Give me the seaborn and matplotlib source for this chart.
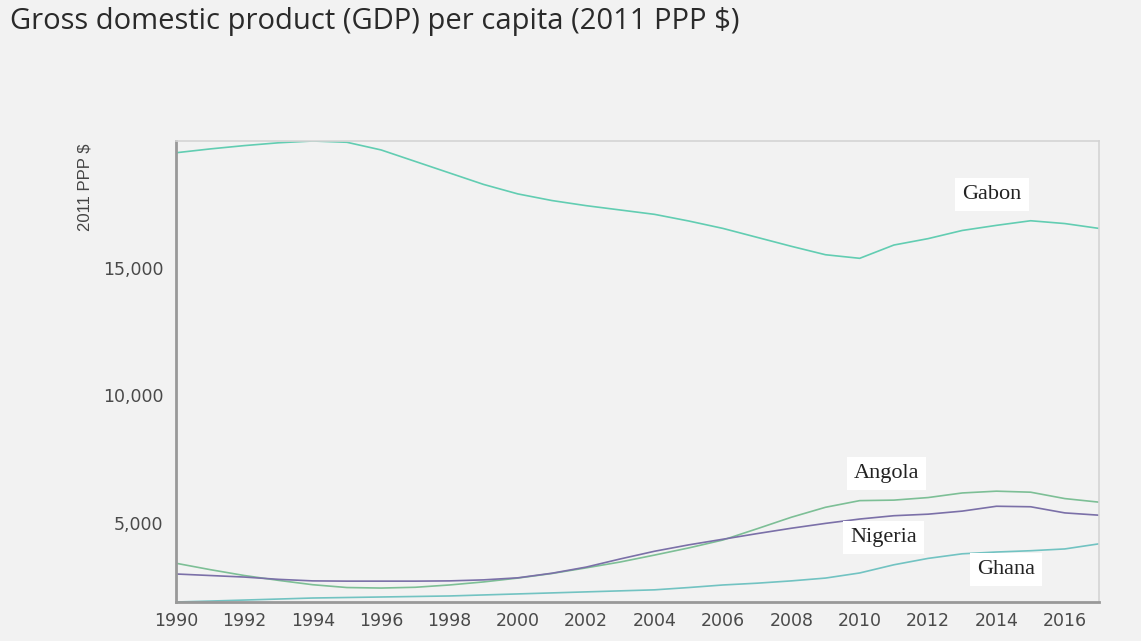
import numpy as np
import pandas as pd
import matplotlib
matplotlib.use("Agg")
import matplotlib.pyplot as plt
import seaborn as sns
from matplotlib.ticker import FuncFormatter, FixedLocator

years = list(range(1990, 2018))
gabon = [19490, 19640, 19770, 19880, 19950, 19900, 19600, 19150, 18700, 18250,
         17880, 17620, 17420, 17250, 17080, 16820, 16530, 16180, 15830, 15500,
         15360, 15880, 16130, 16450, 16650, 16830, 16720, 16530]
angola = [3430, 3180, 2950, 2760, 2590, 2480, 2460, 2490, 2580, 2700,
          2850, 3030, 3250, 3480, 3750, 4030, 4340, 4780, 5230, 5620,
          5880, 5900, 6000, 6180, 6250, 6210, 5960, 5820]
nigeria = [3010, 2950, 2890, 2800, 2740, 2730, 2730, 2730, 2740, 2780,
           2860, 3040, 3280, 3600, 3900, 4150, 4370, 4590, 4800, 4990,
           5160, 5290, 5350, 5470, 5660, 5640, 5400, 5310]
ghana = [1914, 1950, 1990, 2030, 2070, 2090, 2110, 2130, 2150, 2190,
         2230, 2270, 2310, 2350, 2390, 2480, 2580, 2650, 2740, 2850,
         3050, 3370, 3620, 3800, 3870, 3920, 3990, 4190]
countries = ["Gabon", "Angola", "Nigeria", "Ghana"]
colors = {"Gabon": "#62cdb2", "Angola": "#7dbf96", "Nigeria": "#7b70a8", "Ghana": "#72c3c2"}
y_ticks = [5000, 10000, 15000]
x_ticks = list(range(1990, 2017, 2))
label_pos = {"Gabon": (2013.87, 17850), "Angola": (2010.79, 6950),
             "Nigeria": (2010.7, 4450), "Ghana": (2014.27, 3200)}

df = pd.DataFrame({
    "year": years * 4,
    "value": gabon + angola + nigeria + ghana,
    "country": sum([[c] * len(years) for c in countries], []),
})

bg = "#f2f2f2"
sns.set_theme(style="white")
fig = plt.figure(figsize=(11.41, 6.41), dpi=100, facecolor=bg)
ax = fig.add_axes([176 / 1141, 1 - 602 / 641, (1099 - 176) / 1141, (602 - 141) / 641])
ax.set_facecolor(bg)

sns.lineplot(data=df, x="year", y="value", hue="country", palette=colors,
             linewidth=1.2, legend=False, ax=ax)

ymin = min(df["value"])
ymax = max(df["value"])
ax.set_xlim(years[0], years[-1])
ax.set_ylim(ymin, ymax)

ax.set_yticks(y_ticks)
ax.yaxis.set_minor_locator(FixedLocator([ymin, ymax]))
ax.set_xticks(x_ticks)
ax.xaxis.set_minor_locator(FixedLocator([years[-1]]))
ax.yaxis.set_major_formatter(FuncFormatter(lambda v, p: f"{int(v):,}"))
ax.tick_params(axis="both", which="both", direction="out", color="#999999",
               width=1.5, labelcolor="#4a4a4a", labelsize=12.5)
ax.tick_params(axis="both", which="major", length=6)
ax.tick_params(axis="both", which="minor", length=6)
ax.tick_params(axis="x", pad=1)
ax.tick_params(axis="y", pad=3)
ax.set_xlabel("")
ax.set_ylabel("")

for s in ["left", "bottom"]:
    ax.spines[s].set_color("#999999")
    ax.spines[s].set_linewidth(2)
for s in ["top", "right"]:
    ax.spines[s].set_color("#d4d4d4")
    ax.spines[s].set_linewidth(1.2)

for c in countries:
    x, y = label_pos[c]
    ax.text(x, y, c, ha="center", va="center", fontsize=16,
            family=["Liberation Serif", "DejaVu Serif"], color="#222222",
            bbox=dict(facecolor="white", edgecolor="none", pad=5))

fig.text(10 / 1141, 1 - 22 / 641, "Gross domestic product (GDP) per capita (2011 PPP $)",
         ha="left", va="center", fontsize=21, color="#2a2a2a",
         family=["Open Sans", "DejaVu Sans"])
fig.text(85 / 1141, 1 - 187 / 641, "2011 PPP $", rotation=90, ha="center", va="center",
         fontsize=12, color="#444444",
         family=["Liberation Sans Narrow", "Liberation Sans", "DejaVu Sans"])

fig.savefig("out.png", dpi=100, facecolor=bg)
